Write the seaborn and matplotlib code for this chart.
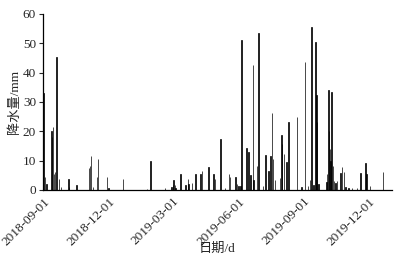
import matplotlib
matplotlib.use("Agg")
import matplotlib.pyplot as plt
import matplotlib.dates as mdates
import numpy as np
import pandas as pd
import seaborn as sns

start_date = "2018-09-01"
# days since start_date on which rain fell
rain_day = [0, 2, 4, 11, 12, 13, 15, 16, 18, 22,
            24, 35, 36, 46, 64, 65, 66, 69, 75, 76,
            89, 91, 111, 145, 150, 170, 179, 181, 182, 184,
            185, 192, 199, 202, 203, 208, 213, 220, 222, 231,
            238, 240, 248, 254, 260, 261, 269, 271, 273, 276,
            277, 284, 287, 290, 293, 294, 299, 301, 307, 311,
            315, 318, 320, 321, 324, 331, 333, 334, 337, 340,
            343, 355, 361, 366, 370, 373, 375, 378, 381, 382,
            383, 385, 396, 397, 399, 400, 401, 402, 403, 405,
            407, 409, 411, 416, 418, 421, 423, 427, 432, 439,
            444, 451, 452, 457, 475, 488]
rain_mm = [33, 4.3, 2, 20, 18, 21.5, 5.5, 6, 45.2, 3.6,
           1, 3.6, 1, 1.8, 7.5, 8, 11.5, 1, 4.5, 10.4,
           4.5, 0.5, 3.7, 0.3, 10, 0.5, 1, 1.5, 3.3, 1.5,
           0.5, 5.5, 1.7, 3.8, 2, 2.3, 5.5, 5.5, 6.4, 7.7,
           5.3, 3.8, 17.2, 0.7, 5.5, 4.3, 4.5, 2, 1.2, 1.2,
           51, 14.4, 12.9, 5, 42.5, 3.5, 8.3, 53.4, 1.2, 12,
           6.5, 11.6, 26.2, 10.5, 3.5, 4, 18.8, 15.8, 12.3, 9.4,
           23, 25, 1, 43.5, 1.4, 3.5, 55.4, 1.5, 50.4, 32.4,
           23, 2, 2.7, 5.5, 33.9, 20, 14, 10, 33.5, 8,
           3, 2.5, 3, 5.6, 7.7, 6.2, 1, 0.8, 0.8, 0.8,
           5.6, 9.3, 5.5, 1.4, 6, 1.3]
tick_labels = ["2018-09-01", "2018-12-01", "2019-03-01",
               "2019-06-01", "2019-09-01", "2019-12-01"]
end_date = "2020-01-02"
y_ticks = [0, 10, 20, 30, 40, 50, 60]

sns.set_style("ticks")
plt.rcParams["font.family"] = ["Liberation Serif", "Noto Sans CJK SC"]

x0 = mdates.date2num(pd.Timestamp(start_date))
x_end = mdates.date2num(pd.Timestamp(end_date))
xs = x0 + np.array(rain_day, dtype=float)

fig = plt.figure(figsize=(3.98, 2.63), dpi=100)
ax = fig.add_axes([0.108, 0.278, 0.877, 0.669])

sns.histplot(x=xs, weights=rain_mm, binwidth=1,
             binrange=(x0 - 0.5, x_end + 0.5),
             color="black", alpha=1, edgecolor="black", linewidth=0.5,
             shrink=0.5, ax=ax)

ax.set_xlim(x0 - 0.8, x_end)
ax.set_ylim(0, 60)
ax.set_yticks(y_ticks)
ax.set_yticklabels([str(v) for v in y_ticks], fontsize=9.5)
tick_pos = [mdates.date2num(pd.Timestamp(t)) for t in tick_labels]
ax.set_xticks(tick_pos)
ax.set_xticklabels(tick_labels, rotation=45, ha="right",
                   rotation_mode="anchor", fontsize=9.5)
ax.tick_params(axis="x", length=0, pad=4)
ax.tick_params(axis="y", length=3, width=0.8, pad=2, direction="out")
ax.set_ylabel("降水量/mm", fontsize=9.5)
ax.yaxis.set_label_coords(-0.062, 0.5)
ax.set_xlabel("日期/d", fontsize=9.5)
ax.xaxis.set_label_coords(0.5, -0.3)
for s in ["left", "bottom"]:
    ax.spines[s].set_linewidth(0.9)
    ax.spines[s].set_color("black")
sns.despine(ax=ax)

fig.savefig("out.png", dpi=100)
